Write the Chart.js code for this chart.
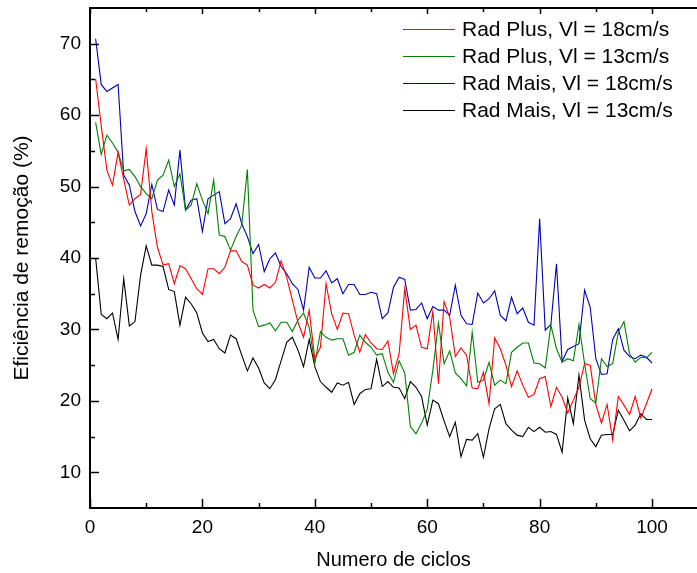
<!DOCTYPE html>
<html>
<head>
<meta charset="utf-8">
<script src="https://cdn.jsdelivr.net/npm/chart.js@4"></script>
<style>
html,body{margin:0;padding:0;background:#fff;overflow:hidden;}
canvas{display:block;}
</style>
</head>
<body>
<canvas id="c" width="697" height="573"></canvas>
<script>
const cycles = [1,2,3,4,5,6,7,8,9,10,11,12,13,14,15,16,17,18,19,20,21,22,23,24,25,26,27,28,29,30,31,32,33,34,35,36,37,38,39,40,41,42,43,44,45,46,47,48,49,50,51,52,53,54,55,56,57,58,59,60,61,62,63,64,65,66,67,68,69,70,71,72,73,74,75,76,77,78,79,80,81,82,83,84,85,86,87,88,89,90,91,92,93,94,95,96,97,98,99,100];

const radPlus18 = [65.1,58.5,52.3,50.2,54.8,51.0,47.4,48.3,48.9,55.3,46.5,41.5,39.0,39.2,36.4,38.9,38.5,37.1,35.7,34.9,38.5,38.5,37.8,38.7,41.0,41.0,39.5,39.0,36.2,35.8,36.3,35.8,36.6,39.6,37.3,34.1,31.0,28.9,32.7,25.9,27.5,36.4,32.2,30.0,32.3,32.2,29.2,26.8,29.3,28.1,27.3,27.2,28.4,23.8,26.6,35.7,30.0,30.6,27.5,27.3,32.5,22.4,33.9,31.7,26.2,27.4,26.4,21.8,21.7,24.0,19.6,28.8,27.3,25.0,22.0,24.2,22.2,20.5,20.9,23.1,23.4,19.2,21.9,20.5,18.3,20.1,21.9,25.2,25.0,19.5,16.9,19.5,14.5,20.6,19.4,18.1,20.6,17.6,19.6,21.7];

const radPlus13 = [59.0,54.5,57.2,56.1,54.8,52.2,52.4,51.4,50.0,49.0,48.3,50.9,51.6,53.7,50.0,51.8,46.7,47.4,50.4,48.1,46.2,50.9,43.2,43.0,41.1,43.0,44.6,52.4,32.7,30.4,30.6,30.9,29.8,31.0,31.0,29.7,31.3,32.3,30.3,25.2,29.7,28.9,28.5,28.7,28.7,26.4,26.8,29.2,28.2,27.5,26.4,26.6,24.0,22.6,25.6,23.9,16.4,15.4,16.9,18.8,24.3,30.9,25.2,27.0,23.9,23.1,22.1,29.6,22.6,22.9,25.4,22.2,22.9,22.4,26.8,27.5,28.1,28.1,25.3,25.2,24.6,30.6,27.3,25.4,25.9,25.6,30.7,25.2,20.3,19.7,25.9,24.8,25.2,29.6,31.1,26.6,25.4,26.1,26.0,26.8];

const radMais18 = [70.7,64.3,63.3,63.8,64.3,51.6,50.2,46.5,44.5,46.2,50.3,46.8,46.5,49.5,47.4,55.1,46.7,48.1,48.3,43.7,48.3,48.8,49.3,44.8,45.5,47.6,44.8,43.0,40.6,41.9,38.1,39.9,40.7,38.8,37.8,36.4,35.6,32.7,38.7,37.2,37.2,38.2,36.5,37.1,35.0,36.3,36.3,34.9,34.9,35.2,35.0,31.5,32.3,35.9,37.3,37.0,32.7,32.8,33.7,31.5,33.2,32.7,32.7,32.0,36.2,32.0,30.8,30.7,35.1,33.7,34.3,35.4,32.0,31.2,34.5,32.2,33.0,31.0,30.6,45.5,29.9,30.7,39.2,25.5,27.2,27.6,28.0,35.5,33.1,25.9,23.7,23.8,28.6,30.1,27.1,26.2,25.9,26.4,26.1,25.3];

const radMais13 = [40.0,32.1,31.5,32.3,28.6,37.1,30.5,31.1,37.6,41.7,39.0,39.0,38.8,35.6,35.3,30.6,34.5,33.6,32.3,29.5,28.3,28.6,27.3,26.7,29.2,28.7,26.4,24.2,26.0,24.6,22.5,21.7,23.0,25.6,28.2,28.9,27.1,24.8,28.6,24.8,22.7,21.9,21.2,22.5,22.2,22.6,19.5,21.0,21.6,21.7,25.8,22.0,22.7,21.9,21.8,20.3,22.7,21.9,20.6,16.6,20.1,19.6,17.2,15.0,17.0,12.2,14.6,14.5,15.4,12.1,16.1,18.9,19.5,16.8,15.9,15.2,15.0,16.3,15.7,16.3,15.6,15.7,15.3,12.8,20.4,16.8,23.6,17.3,14.7,13.6,15.2,15.3,15.3,18.7,17.3,15.8,16.6,18.2,17.4,17.4];

const seriesLabels = ["Rad Plus, Vl = 18cm/s","Rad Plus, Vl = 13cm/s","Rad Mais, Vl = 18cm/s","Rad Mais, Vl = 13cm/s"];
const seriesColors = ["#ff0000","#008000","#0000b4","#000000"];
const xTickLabels = [0,20,40,60,80,100];
const yTickLabels = [10,20,30,40,50,60,70];
const xMinorTicks = [10,30,50,70,90];
const yMinorTicks = [15,25,35,45,55,65];

const FONT = "'Liberation Sans', Arial, Helvetica, sans-serif";

function pts(vals){ return cycles.map((c,i)=>({x:c,y:vals[i]})); }

const allSeries = [radPlus18, radPlus13, radMais18, radMais13];
const datasets = allSeries.map((s,i)=>({
  label: seriesLabels[i],
  data: pts(s),
  borderColor: seriesColors[i],
  backgroundColor: seriesColors[i],
  borderWidth: 1.1,
  pointRadius: 0,
  tension: 0,
  fill: false
}));

const frame = {
  id: 'frame',
  afterDraw(chart){
    const ctx = chart.ctx, a = chart.chartArea;
    const xs = chart.scales.x, ys = chart.scales.y;
    ctx.save();
    ctx.strokeStyle = '#000';
    ctx.lineWidth = 2;
    ctx.beginPath(); ctx.moveTo(a.left, a.top); ctx.lineTo(a.right, a.top); ctx.stroke();
    ctx.lineWidth = 1.5;
    const tick = (x1,y1,x2,y2)=>{ctx.beginPath();ctx.moveTo(x1,y1);ctx.lineTo(x2,y2);ctx.stroke();};
    xTickLabels.forEach(v=>{const p=Math.round(xs.getPixelForValue(v))+0.5; tick(p,a.bottom,p,a.bottom-9); tick(p,a.top,p,a.top+6);});
    xMinorTicks.forEach(v=>{const p=Math.round(xs.getPixelForValue(v))+0.5; tick(p,a.bottom,p,a.bottom-5); tick(p,a.top,p,a.top+4);});
    yTickLabels.forEach(v=>{const p=Math.round(ys.getPixelForValue(v))+0.5; tick(a.left,p,a.left+9,p);});
    yMinorTicks.forEach(v=>{const p=Math.round(ys.getPixelForValue(v))+0.5; tick(a.left,p,a.left+5,p);});
    ctx.font = "21px " + FONT;
    ctx.textBaseline = 'middle';
    ctx.textAlign = 'left';
    chart.data.datasets.forEach((d,i)=>{
      const y = 29 + i*27;
      ctx.strokeStyle = d.borderColor; ctx.lineWidth = 1.2;
      tick(403, y+0.5, 455, y+0.5);
      ctx.fillStyle = '#000';
      ctx.fillText(d.label, 462, y+1);
    });
    ctx.restore();
  }
};

new Chart(document.getElementById('c'), {
  type: 'line',
  data: { datasets },
  options: {
    responsive: false,
    animation: false,
    layout: { padding: { top: 8, right: 0, left: 0, bottom: 0 } },
    plugins: { legend: { display: false }, tooltip: { enabled: false } },
    scales: {
      x: {
        type: 'linear', min: 0, max: 108,
        afterBuildTicks(s){ s.ticks = xTickLabels.map(v=>({value:v})); },
        afterFit(s){ s.height = 65; s.paddingLeft = 0; s.paddingRight = 0; },
        grid: { display: false, drawTicks: false },
        border: { display: true, color: '#000', width: 2 },
        ticks: { color: '#000', font: { family: FONT, size: 19 }, padding: 8, maxRotation: 0 },
        title: { display: true, text: 'Numero de ciclos', color: '#000', font: { family: FONT, size: 20 }, padding: { top: 0, bottom: 1 } }
      },
      y: {
        type: 'linear', min: 5, max: 75,
        afterBuildTicks(s){ s.ticks = yTickLabels.map(v=>({value:v})); },
        afterFit(s){ s.width = 90; s.paddingTop = 0; s.paddingBottom = 0; },
        grid: { display: false, drawTicks: false },
        border: { display: true, color: '#000', width: 2 },
        ticks: { color: '#000', font: { family: FONT, size: 19 }, padding: 9 },
        title: { display: true, text: 'Eficiência de remoção (%)', color: '#000', font: { family: FONT, size: 21 }, padding: { top: 10, bottom: 0 } }
      }
    }
  },
  plugins: [frame]
});
</script>
</body>
</html>
